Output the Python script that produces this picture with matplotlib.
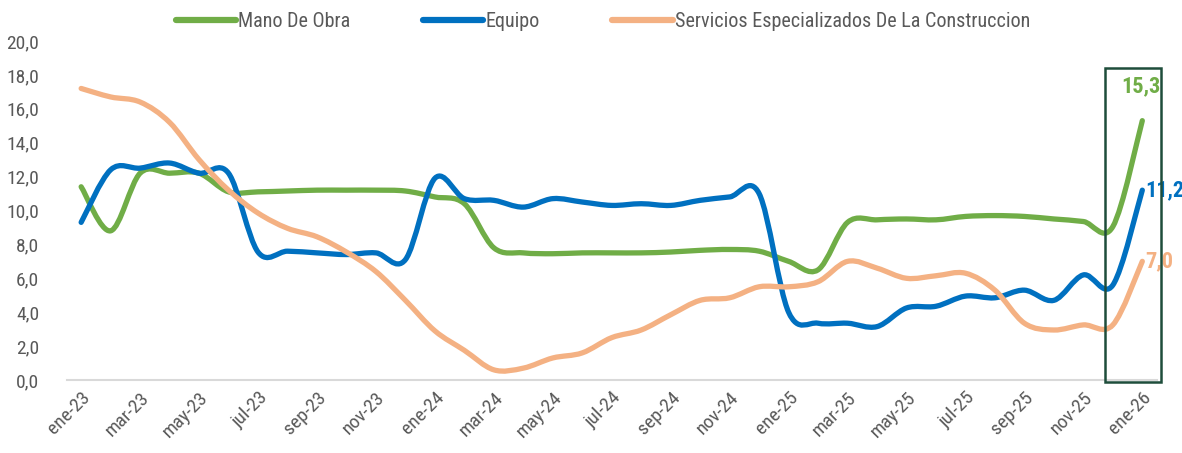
import numpy as np
import matplotlib
matplotlib.use("Agg")
import matplotlib.pyplot as plt
from matplotlib.path import Path
from matplotlib.patches import PathPatch, Rectangle
from matplotlib.lines import Line2D
from matplotlib import font_manager

# pick a narrow face if one is installed
names = {f.name for f in font_manager.fontManager.ttflist}
fams = [f for f in ['Roboto Condensed', 'Liberation Sans Narrow', 'DejaVu Sans Condensed'] if f in names]
plt.rcParams['font.family'] = fams + ['Roboto', 'DejaVu Sans']
narrow = bool(fams)

# Monthly data ene-23 .. ene-26
meses = ['ene', 'feb', 'mar', 'abr', 'may', 'jun', 'jul', 'ago', 'sep', 'oct', 'nov', 'dic']
labels = [f"{meses[i % 12]}-{23 + i // 12}" for i in range(37)]

mano_obra = [11.4, 8.8, 12.2, 12.2, 12.2, 11.1, 11.1, 11.15, 11.2, 11.2, 11.2, 11.15,
             10.8, 10.4, 7.8, 7.5, 7.45, 7.5, 7.5, 7.5, 7.55, 7.65, 7.7, 7.6,
             7.0, 6.5, 9.3, 9.45, 9.5, 9.45, 9.65, 9.7, 9.65, 9.5, 9.35, 9.05, 15.3]
equipo = [9.3, 12.4, 12.5, 12.8, 12.2, 12.2, 7.55, 7.6, 7.5, 7.4, 7.5, 7.1,
          11.9, 10.7, 10.6, 10.2, 10.7, 10.5, 10.3, 10.4, 10.3, 10.6, 10.8, 11.0,
          4.0, 3.35, 3.35, 3.15, 4.25, 4.35, 4.95, 4.85, 5.3, 4.7, 6.2, 5.6, 11.2]
servicios = [17.2, 16.7, 16.4, 15.2, 13.0, 11.2, 9.85, 8.95, 8.45, 7.55, 6.4, 4.7,
             2.9, 1.75, 0.6, 0.7, 1.3, 1.6, 2.5, 2.95, 3.85, 4.7, 4.85, 5.5,
             5.5, 5.8, 7.0, 6.6, 6.0, 6.15, 6.3, 5.3, 3.35, 2.95, 3.25, 3.25, 7.0]

series = [("Mano De Obra", mano_obra, "#70AD47"),
          ("Equipo", equipo, "#0070C0"),
          ("Servicios Especializados De La Construccion", servicios, "#F4B183")]


def smooth_path(x, y):
    # Excel-like smoothed line: Catmull-Rom as cubic Bezier segments
    pts = np.column_stack([x, y]).astype(float)
    n = len(pts)
    verts = [pts[0]]
    codes = [Path.MOVETO]
    for i in range(n - 1):
        p0 = pts[i - 1] if i > 0 else pts[i]
        p1 = pts[i]
        p2 = pts[i + 1]
        p3 = pts[i + 2] if i + 2 < n else pts[i + 1]
        c1 = p1 + (p2 - p0) / 6.0
        c2 = p2 - (p3 - p1) / 6.0
        verts += [c1, c2, p2]
        codes += [Path.CURVE4] * 3
    return Path(verts, codes)


fig = plt.figure(figsize=(11.82, 4.53), dpi=100)
ax = fig.add_axes([67 / 1182, 73 / 453, (1160 - 67) / 1182, 339 / 453])

x = np.arange(len(labels))
for name, vals, col in series:
    patch = PathPatch(smooth_path(x, vals), facecolor='none', edgecolor=col,
                      lw=3.8, capstyle='round', joinstyle='round', zorder=3)
    ax.add_patch(patch)

fs = 14 if narrow else 12
ax.set_xlim(-0.48, 36.6)
ax.set_ylim(0, 20)
ax.set_yticks(np.arange(0, 21, 2))
ax.set_yticklabels([f"{v:.1f}".replace('.', ',') for v in np.arange(0, 21, 2)])
ax.set_xticks(x[::2])
ax.set_xticklabels(labels[::2], rotation=45, ha='right', rotation_mode='anchor')
ax.tick_params(axis='both', length=0, labelsize=fs, colors='#595959')
ax.tick_params(axis='x', pad=6)
ax.tick_params(axis='y', pad=20)
for s in ['top', 'right', 'left']:
    ax.spines[s].set_visible(False)
ax.spines['bottom'].set_color('#D9D9D9')
ax.spines['bottom'].set_linewidth(1.5)
ax.spines['bottom'].set_bounds(-0.48, 36.5)

# highlight box on the latest month
ax.add_patch(Rectangle((34.75, -0.1), 1.9, 18.5, fill=False, edgecolor='#1E4D3B',
                       lw=1.8, clip_on=False, zorder=4))

# end labels
lfs = 16 if narrow else 13.5
ax.annotate(f"{mano_obra[-1]:.1f}".replace('.', ','), (36, mano_obra[-1]),
            xytext=(-1, 17), textcoords='offset points', ha='center', va='bottom',
            color='#70AD47', fontsize=lfs, fontweight='bold')
ax.annotate(f"{equipo[-1]:.1f}".replace('.', ','), (36, equipo[-1]),
            xytext=(2, 0), textcoords='offset points', ha='left', va='center',
            color='#0070C0', fontsize=lfs, fontweight='bold', annotation_clip=False)
ax.annotate(f"{servicios[-1]:.1f}".replace('.', ','), (36, servicios[-1]),
            xytext=(2, 0), textcoords='offset points', ha='left', va='center',
            color='#F4B183', fontsize=lfs, fontweight='bold', annotation_clip=False)

handles = [Line2D([], [], color=c, lw=4.5, solid_capstyle='round') for _, _, c in series]
fig.legend(handles, [n for n, _, _ in series], loc='center', bbox_to_anchor=(0.51, 0.953),
           ncol=3, frameon=False, fontsize=fs + 0.5, handlelength=3.0, handletextpad=0.1,
           columnspacing=3.6, labelcolor='#595959')

fig.savefig("out.png", dpi=100)
